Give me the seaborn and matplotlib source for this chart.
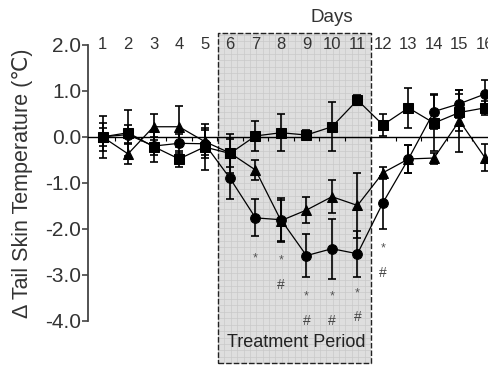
import numpy as np
import pandas as pd
import matplotlib
matplotlib.use('Agg')
import matplotlib.pyplot as plt
import seaborn as sns

# 数据：每天的体温变化（均值与误差）
days = list(range(1, 17))
square_mean = [0.0, 0.09, -0.21, -0.48, -0.22, -0.36, 0.02, 0.09, 0.04, 0.22, 0.80, 0.26, 0.63, 0.30, 0.53, 0.63]
square_err = [0.46, 0.50, 0.33, 0.17, 0.50, 0.42, 0.33, 0.40, 0.10, 0.53, 0.10, 0.24, 0.43, 0.60, 0.40, 0.15]
triangle_mean = [0.0, -0.37, 0.22, 0.22, -0.10, -0.35, -0.72, -1.82, -1.59, -1.30, -1.49, -0.78, -0.48, -0.46, 0.35, -0.45]
triangle_err = [0.30, 0.23, 0.28, 0.45, 0.30, 0.30, 0.22, 0.45, 0.28, 0.36, 0.70, 0.13, 0.30, 0.12, 0.67, 0.30]
circle_mean = [0.0, 0.05, -0.20, -0.14, -0.15, -0.90, -1.76, -1.80, -2.58, -2.43, -2.54, -1.43, -0.48, 0.55, 0.72, 0.93]
circle_err = [0.20, 0.20, 0.20, 0.20, 0.30, 0.45, 0.40, 0.48, 0.46, 0.65, 0.50, 0.57, 0.30, 0.38, 0.30, 0.30]

# 显著性标记
star_days = [7, 8, 9, 10, 11, 12]
star_y = [-2.65, -2.69, -3.47, -3.47, -3.41, -2.42]
hash_days = [8, 9, 10, 11, 12]
hash_y = [-3.22, -4.00, -4.00, -3.92, -2.95]

treat_start, treat_end = 5.53, 11.53

df = pd.DataFrame({
    'day': days * 3,
    'temp': square_mean + triangle_mean + circle_mean,
    'err': square_err + triangle_err + circle_err,
    'group': ['square'] * 16 + ['triangle'] * 16 + ['circle'] * 16,
})

sns.set_style('white')
plt.rcParams['font.family'] = ['Liberation Sans', 'DejaVu Sans']
txt_color = '#333333'

fig = plt.figure(figsize=(4.89, 3.67), dpi=100)
ax = fig.add_axes([0.18, 0.0, 0.82, 0.9155])

# 灰色治疗期背景（带网格）
box_lo, box_hi = -4.92, 2.26
ax.fill_between([treat_start, treat_end], box_lo, box_hi, color='#dedede', zorder=0, lw=0)
for gx in np.arange(treat_start, treat_end, 0.25):
    ax.plot([gx, gx], [box_lo, box_hi], color='#c9c9c9', lw=0.5, zorder=0.5)
for gy in np.arange(box_lo, box_hi, 0.14):
    ax.plot([treat_start, treat_end], [gy, gy], color='#c9c9c9', lw=0.5, zorder=0.5)
ax.plot([treat_start, treat_end, treat_end, treat_start, treat_start],
        [box_lo, box_lo, box_hi, box_hi, box_lo], color='#222222', lw=1.0,
        ls=(0, (4, 1.5)), zorder=1, clip_on=False)

# 误差线
for g, sub in df.groupby('group'):
    ax.errorbar(sub['day'], sub['temp'], yerr=sub['err'], fmt='none', ecolor='black',
                elinewidth=1.2, capsize=3, capthick=1.2, zorder=2)

sns.lineplot(data=df, x='day', y='temp', style='group', markers={'square': 's', 'triangle': '^', 'circle': 'o'},
             dashes=False, color='black', lw=0.9, markersize=7, markeredgecolor='black',
             legend=False, ax=ax, zorder=3)

for d, y in zip(star_days, star_y):
    ax.text(d, y, '*', ha='center', va='center', fontsize=9, color='#555555')
for d, y in zip(hash_days, hash_y):
    ax.text(d, y, '#', ha='center', va='center', fontsize=10, color='#444444')

# 顶部日期标签
for d in days:
    ax.text(d, 2.0, str(d), ha='center', va='center', fontsize=12, color=txt_color, clip_on=False)
ax.text(10.0, 2.6, 'Days', ha='center', va='center', fontsize=13.5, color=txt_color)
ax.text(8.6, -4.46, 'Treatment Period', ha='center', va='center', fontsize=13, color='#222222')

ax.set_xlim(0.43, 16.16)
ax.set_ylim(-5.0, 2.3)
ax.spines['top'].set_visible(False)
ax.spines['right'].set_visible(False)
ax.spines['left'].set_bounds(-4.0, 2.0)
ax.spines['left'].set_color('#444444')
ax.spines['left'].set_linewidth(1.3)
ax.spines['bottom'].set_position(('data', 0))
ax.spines['bottom'].set_color('black')
ax.spines['bottom'].set_linewidth(1.0)

ax.set_yticks(np.arange(-4, 2.1, 1.0))
ax.set_yticklabels(['%.1f' % v for v in np.arange(-4, 2.1, 1.0)], fontsize=15, color=txt_color)
ax.tick_params(axis='y', direction='out', length=4, width=1.2, color='#444444', left=True, pad=1)
ax.set_xticks([])
ax.set_xticks(np.arange(1.5, 16, 1.0), minor=True)
ax.tick_params(axis='x', which='minor', direction='out', length=3, width=0.8, color='black', bottom=True)
ax.set_xlabel('')
ax.set_ylabel('Δ Tail Skin Temperature (℃)', fontsize=15.5, color=txt_color)
ax.yaxis.set_label_coords(-0.137, 0.5 + (-1.0 - (-1.35)) / 7.3)

fig.savefig('out.png', dpi=100)
